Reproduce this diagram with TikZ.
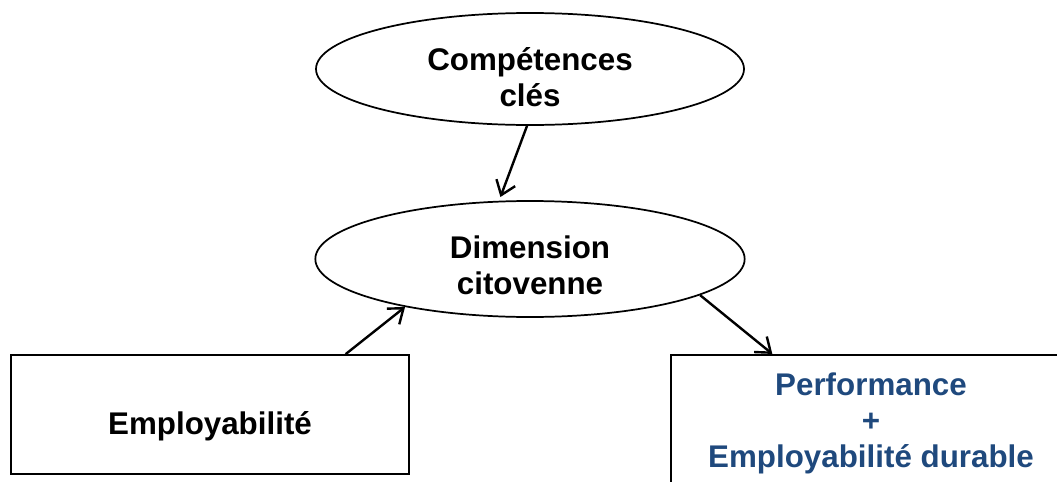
\documentclass[tikz,border=0pt]{standalone}
\usepackage{fontspec}
\setmainfont{Liberation Sans}
\usetikzlibrary{arrows.meta, shapes.geometric, positioning}
\definecolor{perfblue}{RGB}{31,73,125}

\begin{document}
\begin{tikzpicture}[x=0.75pt,y=-0.75pt,->,>={Straight Barb[length=10pt,width=15pt]},
  every edge/.style={draw,line width=1.8pt},
  oval node/.style={ellipse,draw,line width=1.3pt,inner sep=0pt,align=center,font=\fontsize{23.5}{27}\selectfont\bfseries},
  box node/.style={rectangle,draw,line width=1.6pt,inner sep=0pt,align=center,font=\fontsize{23.5}{27}\selectfont\bfseries}]
  \useasboundingbox (0,0) rectangle (1057,482);
  \node[oval node, minimum width=321pt, minimum height=84pt] (comp) at (530,69) {\rule{0pt}{30pt}Compétences\\clés};
  \node[oval node, minimum width=322pt, minimum height=87pt] (dim) at (530,259) {\rule{0pt}{26pt}Dimension\\citovenne};
  \node[box node, minimum width=298.5pt, minimum height=89pt, text height=30pt, text depth=0pt] (emp) at (210,414.5) {Employabilité};
  \node[box node, minimum width=300pt, minimum height=102pt, text=perfblue] (perf) at (871,423) {Performance\\+\\Employabilité durable};
  \path
    (comp.267) edge[shorten >=3pt] (dim.118)
    (emp.24.6) edge (dim.201.3)
    (dim.348.7) edge (perf.145.2);
\end{tikzpicture}
\end{document}
